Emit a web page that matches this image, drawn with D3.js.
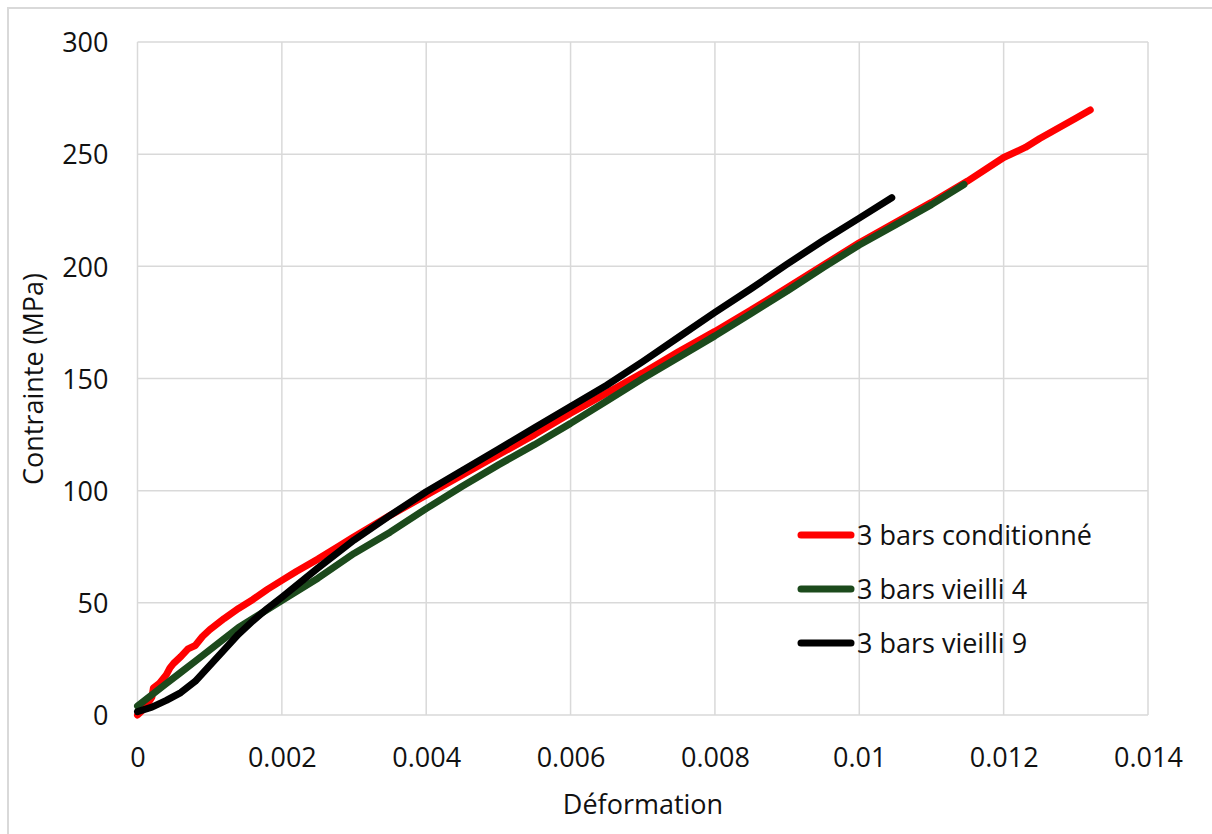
<!DOCTYPE html>
<html>
<head>
<meta charset="utf-8">
<script src="https://cdn.jsdelivr.net/npm/d3@7"></script>
<style>
  html, body { margin: 0; padding: 0; background: #fff; }
  svg { display: block; }
  text { font-family: "Open Sans", sans-serif; fill: #111; }
</style>
</head>
<body>
<svg id="chart" width="1212" height="834"></svg>
<script>
// ---- data (strain, stress MPa) ----
const seriesNames = ["3 bars conditionné", "3 bars vieilli 4", "3 bars vieilli 9"];
const seriesColors = ["#ff0000", "#1c4a1c", "#000000"];

const conditionne = [
  [0,0],[0.0001,3],[0.0002,8],[0.00022,12],[0.0003,14],[0.0004,18],[0.00045,21],[0.0005,23],
  [0.0006,26],[0.0007,29.5],[0.0008,31],[0.0009,35],[0.001,38],[0.0012,43],[0.0014,47.5],
  [0.0016,51.5],[0.0018,56],[0.002,60],[0.0022,64],[0.0025,69.5],[0.0028,75.5],[0.003,79.5],
  [0.0035,89],[0.004,98],[0.0045,107],[0.005,116],[0.0055,125],[0.006,134.5],[0.0065,143.5],
  [0.007,152.5],[0.0075,162],[0.008,171],[0.0085,180.5],[0.009,190.5],[0.0095,200.5],[0.01,210.5],
  [0.0105,219.5],[0.011,228.5],[0.0115,238],[0.012,248.5],[0.0123,253],[0.0125,257],[0.013,266],[0.0132,269.7]
];
const vieilli4 = [
  [0,4],[0.0002,9],[0.0004,14],[0.0006,19],[0.0008,24],[0.001,29],[0.0012,34],[0.0014,39],
  [0.0016,43],[0.0018,47],[0.002,51],[0.0025,61],[0.003,72],[0.0035,81.5],[0.004,92],
  [0.0045,102],[0.005,111.5],[0.0055,120.5],[0.006,130],[0.0065,140],[0.007,150],[0.0075,159.5],
  [0.008,169],[0.0085,179],[0.009,189],[0.0095,199.5],[0.01,209.5],[0.0105,218.5],[0.011,227.5],[0.01145,236.5]
];
const vieilli9 = [
  [0,1.5],[0.0002,3.5],[0.0004,6.5],[0.0006,10],[0.0008,15],[0.001,22],[0.0012,29],[0.0014,36],
  [0.0016,42],[0.0018,47.5],[0.002,52.5],[0.0025,65.5],[0.003,78],[0.0035,89],[0.004,99.5],
  [0.0045,109],[0.005,118.5],[0.0055,128],[0.006,137.5],[0.0065,147],[0.007,157.5],[0.0075,168.5],
  [0.008,179.5],[0.0085,190],[0.009,201],[0.0095,211.5],[0.01,221.5],[0.01045,230.6]
];
const xTicks = [0, 0.002, 0.004, 0.006, 0.008, 0.01, 0.012, 0.014];
const xTickLabels = ["0", "0.002", "0.004", "0.006", "0.008", "0.01", "0.012", "0.014"];
const yTicks = [0, 50, 100, 150, 200, 250, 300];
const xTitle = "Déformation";
const yTitle = "Contrainte (MPa)";

const allSeries = [conditionne, vieilli4, vieilli9];

// ---- layout ----
const svg = d3.select("#chart");
const plotL = 137.5, plotR = 1148, plotT = 42, plotB = 715;
const x = d3.scaleLinear().domain([0, 0.014]).range([plotL, plotR]);
const y = d3.scaleLinear().domain([0, 300]).range([plotB, plotT]);
const gridColor = "#d9d9d9";

// outer border
svg.append("rect").attr("x", 8).attr("y", 8).attr("width", 1230).attr("height", 850)
  .attr("fill", "none").attr("stroke", gridColor).attr("stroke-width", 2);

// gridlines
const grid = svg.append("g");
grid.selectAll("line.v").data(xTicks).join("line").attr("class", "v")
  .attr("x1", d => x(d)).attr("x2", d => x(d)).attr("y1", plotT).attr("y2", plotB)
  .attr("stroke", gridColor).attr("stroke-width", 1.5);
grid.selectAll("line.h").data(yTicks).join("line").attr("class", "h")
  .attr("x1", plotL).attr("x2", plotR).attr("y1", d => y(d)).attr("y2", d => y(d))
  .attr("stroke", gridColor).attr("stroke-width", 1.5);

// axes (labels via d3 axes, lines hidden)
const xAxis = d3.axisBottom(x).tickValues(xTicks).tickFormat((d, i) => xTickLabels[i]).tickSize(0).tickPadding(0);
const gx = svg.append("g").attr("transform", `translate(0,${plotB})`).call(xAxis);
gx.select(".domain").remove();
gx.selectAll("text").attr("y", 52).attr("dy", 0).attr("font-size", 27)
  .style("font-family", '"Open Sans", sans-serif').attr("fill", "#111");

const yAxis = d3.axisLeft(y).tickValues(yTicks).tickFormat(d3.format("d")).tickSize(0).tickPadding(0);
const gy = svg.append("g").attr("transform", `translate(${plotL},0)`).call(yAxis);
gy.select(".domain").remove();
gy.selectAll("text").attr("x", -29).attr("dy", "0.36em").attr("font-size", 27)
  .style("font-family", '"Open Sans", sans-serif').attr("fill", "#111");

// axis titles
svg.append("text").attr("x", 643).attr("y", 814).attr("text-anchor", "middle")
  .attr("font-size", 27).text(xTitle);
svg.append("text").attr("transform", "translate(43,379) rotate(-90)")
  .attr("text-anchor", "middle").attr("font-size", 27).text(yTitle);

// lines
const line = d3.line().x(d => x(d[0])).y(d => y(d[1])).curve(d3.curveLinear);
svg.append("g").selectAll("path").data(allSeries).join("path")
  .attr("d", line)
  .attr("fill", "none")
  .attr("stroke", (d, i) => seriesColors[i])
  .attr("stroke-width", 7)
  .attr("stroke-linecap", "round")
  .attr("stroke-linejoin", "round");

// legend
const legend = svg.append("g");
const legY = [535, 589, 643];
seriesNames.forEach((name, i) => {
  legend.append("line").attr("x1", 801).attr("x2", 851)
    .attr("y1", legY[i]).attr("y2", legY[i])
    .attr("stroke", seriesColors[i]).attr("stroke-width", 7).attr("stroke-linecap", "round");
  legend.append("text").attr("x", 857).attr("y", legY[i] + 9.5)
    .attr("font-size", 27).text(name);
});
</script>
</body>
</html>
